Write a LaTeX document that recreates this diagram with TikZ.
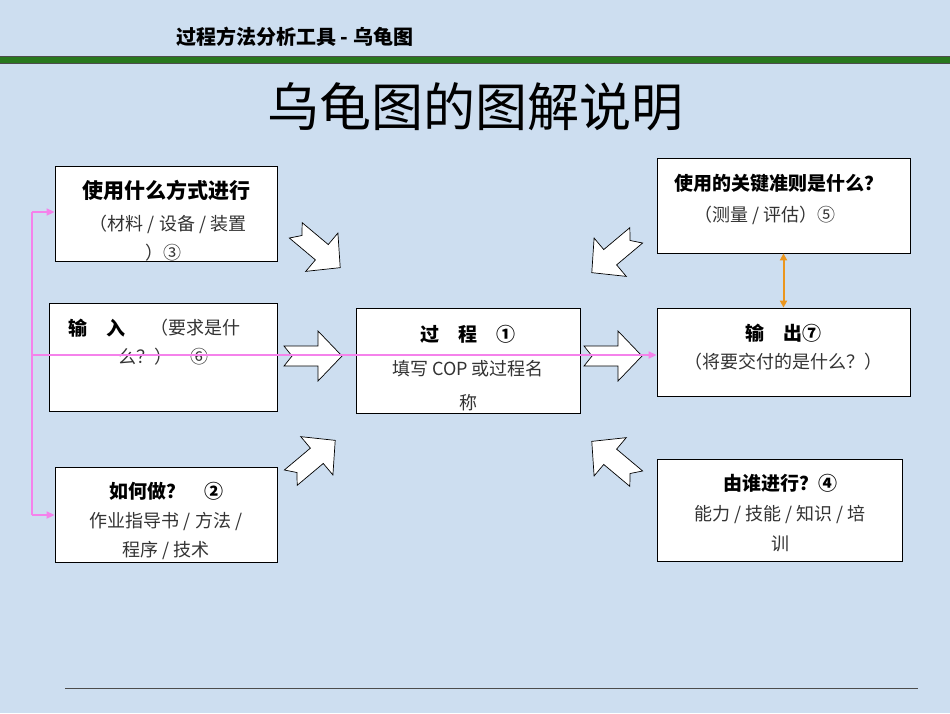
\documentclass[tikz,border=0pt]{standalone}
\usepackage{fontspec}
\setmainfont{Noto Sans CJK SC}
\usetikzlibrary{arrows.meta}
\definecolor{bgc}{RGB}{205,222,240}
\definecolor{grn}{RGB}{40,120,30}
\definecolor{pinkc}{RGB}{245,130,235}
\definecolor{orc}{RGB}{235,150,30}
\tikzset{
 box/.style={draw=black, fill=white, line width=0.8pt, inner sep=0pt},
 tb/.style={font=\fontsize{19}{22}\selectfont\bfseries, inner sep=0pt},
 tn/.style={font=\fontsize{18}{22}\selectfont\color{black!80}, inner sep=0pt},
 blk/.style={draw=black, fill=white, line width=0.7pt},
 pinkarr/.style={draw=pinkc, line width=1.6pt, -{Triangle[length=8pt,width=7pt]}},
}
\newcommand{\blockarrow}[3]{%
 \draw[blk, shift={(#1,#2)}, rotate=#3] (-29,-10) -- (5,-10) -- (5,-25) -- (29,0) -- (5,25) -- (5,10) -- (-29,10) -- (-21,0) -- cycle;}
\begin{document}
\begin{tikzpicture}[x=1pt,y=-1pt]
\fill[bgc] (0,0) rectangle (950,713);
\useasboundingbox (0,0) rectangle (950,713);
\node[font=\fontsize{20}{22}\selectfont\bfseries, anchor=west, inner sep=0pt] (hdr) at (176,37) {过程方法分析工具 - 乌龟图};
\fill[grn] (0,56) rectangle (950,63);
\draw[black!70, line width=0.6pt] (0,56) -- (950,56) (0,63) -- (950,63);
\node[font=\fontsize{52}{56}\selectfont, inner sep=0pt] (title) at (475,107) {乌龟图的图解说明};
\draw[black!70, line width=0.8pt] (65,688) -- (918,688);

% boxes
\node[box, minimum width=222pt, minimum height=95pt] (A) at (166,213.5) {};
\node[box, minimum width=228pt, minimum height=108pt] (I) at (163,357) {};
\node[box, minimum width=222pt, minimum height=95pt] (H) at (166,514.5) {};
\node[box, minimum width=224pt, minimum height=105pt] (P) at (468,360.5) {};
\node[box, minimum width=253pt, minimum height=95pt] (C) at (783.5,205.5) {};
\node[box, minimum width=253pt, minimum height=88pt] (O) at (783.5,352) {};
\node[box, minimum width=245pt, minimum height=102pt] (W) at (779.5,510) {};

% texts
\node[tb, font=\fontsize{21}{22}\selectfont\bfseries] (a1) at (166,190) {使用什么方式进行};
\node[tn] (a2) at (168,224) {（材料 / 设备 / 装置};
\node[tn] (a3) at (163,253) {）③};
\node[tb, anchor=west] (i1) at (68,328) {输　入};
\node[tn, anchor=west] (i2) at (150,328) {（要求是什};
\node[tn] (i3) at (163,357) {么？）　⑥};
\node[tb] (p1) at (468,334) {过　程　①};
\node[tn] (p2) at (468,369) {填写 COP 或过程名};
\node[tn] (p3) at (468,403) {称};
\node[tb] (c1) at (779,183) {使用的关键准则是什么？};
\node[tn] (c2) at (765,215) {（测量 / 评估）⑤};
\node[tb] (o1) at (783,333) {输　出⑦};
\node[tn] (o2) at (783,362) {（将要交付的是什么？）};
\node[tb] (w1) at (780,483) {由谁进行？④};
\node[tn] (w2) at (780,514) {能力 / 技能 / 知识 / 培};
\node[tn] (w3) at (780,544) {训};
\node[tb] (h1) at (166,491) {如何做？　②};
\node[tn] (h2) at (166,521) {作业指导书 / 方法 /};
\node[tn] (h3) at (166,550) {程序 / 技术};

% block arrows
\blockarrow{313}{356}{0}
\blockarrow{613}{356}{0}
\blockarrow{318}{249}{-40}
\blockarrow{313}{459}{40}
\blockarrow{614}{254}{-140}
\blockarrow{614}{460}{140}

% pink connectors
\coordinate (pj) at (32,355);
\coordinate (pt) at (32,212);
\coordinate (pb) at (32,515);
\draw[draw=pinkc, line width=1.6pt] (pt) -- (pb);
\draw[pinkarr] (pt) -- (A.west |- pt);
\draw[pinkarr] (pb) -- (H.west |- pb);
\draw[pinkarr] (pj) -- (O.west |- pj);
% orange
\draw[draw=orc, line width=2pt, {Triangle[length=7pt,width=7pt]}-{Triangle[length=7pt,width=7pt]}] (C.south) -- (O.north);
\end{tikzpicture}
\end{document}
